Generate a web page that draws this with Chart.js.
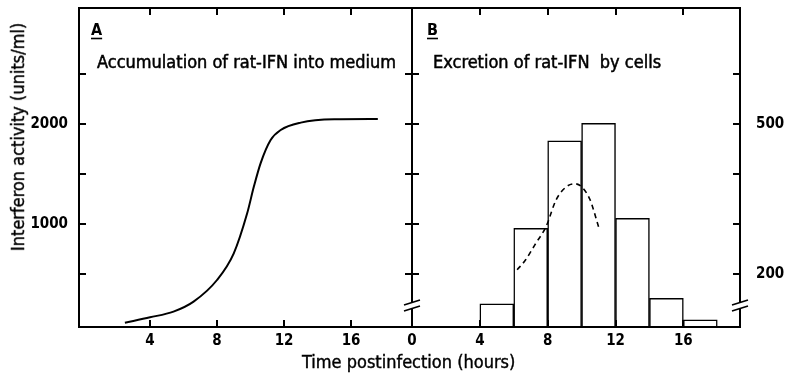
<!DOCTYPE html>
<html>
<head>
  <title>Rat-IFN accumulation and excretion</title>
  <script src="https://cdn.jsdelivr.net/npm/chart.js"></script>
  <style>
    body {
      margin: 0;
      background: #fff;
      width: 786px;
      height: 373px;
      position: relative;
      overflow: hidden;
      font-family: 'DejaVu Sans Condensed', 'DejaVu Sans', sans-serif;
    }
    .panel { position: absolute; top: 0; height: 373px; }
    #boxA { left: 0; width: 420px; }
    #boxB { left: 400px; width: 386px; }
    #xTitle, #yTitle {
      position: absolute;
      white-space: nowrap;
      font-size: 18px;
      line-height: 22px;
      -webkit-text-stroke: 0.4px #000;
    }
    #xTitle { left: 302px; top: 351px; width: 200px; text-align: center; }
    #yTitle { left: 18px; top: 137px; transform: translate(-50%, -50%) rotate(-90deg); }
  </style>
</head>
<body>
  <div class="panel" id="boxA"><canvas id="chartA"></canvas></div>
  <div class="panel" id="boxB"><canvas id="chartB"></canvas></div>
  <div id="yTitle">Interferon activity (units/ml)</div>
  <div id="xTitle">Time postinfection (hours)</div>

  <script>
    // panel A: cumulative rat-IFN in medium (units/ml)
    const accHours = [2.5, 4, 5.4, 6.6, 8, 9, 9.8, 10.2, 10.6, 11.2, 11.8, 13, 15, 17.6];
    const accUnits = [16, 70, 127, 227, 443, 710, 1110, 1377, 1610, 1843, 1943, 2017, 2050, 2053];

    // panel B: excretion per 2 h interval (bar centres) and dashed curve
    const binHours = [5, 7, 9, 11, 13, 15, 17];
    const binUnits = [141, 292, 467, 502, 312, 152, 109];
    const dashHours = [6.2, 6.7, 7.3, 7.9, 8.5, 9.1, 9.6, 10.0, 10.5, 11.0];
    const dashUnits = [209, 229, 262, 295, 349, 375, 381, 375, 349, 295];

    // ticks and labels
    const timeTicks = [4, 8, 12, 16];
    const timeLabelsA = [4, 8, 12, 16];
    const timeLabelsB = [0, 4, 8, 12, 16];
    const unitTicksA = [500, 1000, 1500, 2000, 2500];
    const unitLabelsA = [1000, 2000];
    const unitTicksB = [200, 300, 400, 500, 600];
    const unitLabelsB = [200, 500];

    const FAMILY = "'DejaVu Sans Condensed', 'DejaVu Sans', sans-serif";
    const tickFont = { family: FAMILY, size: 15, weight: 'bold' };

    // frame, inward tick marks, axis breaks and panel captions
    const framePlugin = {
      id: 'frame',
      afterDatasetsDraw(chart, args, opts) {
        const { ctx, chartArea: a } = chart;
        const xs = chart.scales.x, ys = chart.scales.y;
        ctx.save();
        ctx.strokeStyle = '#000';
        ctx.lineWidth = 2;
        ctx.strokeRect(a.left, a.top, a.width, a.height);

        ctx.beginPath();
        opts.xTicks.forEach(v => {
          const px = Math.round(xs.getPixelForValue(v));
          ctx.moveTo(px, a.bottom); ctx.lineTo(px, a.bottom - 7);
          ctx.moveTo(px, a.top); ctx.lineTo(px, a.top + 7);
        });
        opts.yTicks.forEach(v => {
          const py = Math.round(ys.getPixelForValue(v));
          ctx.moveTo(a.left, py); ctx.lineTo(a.left + 7, py);
          ctx.moveTo(a.right, py); ctx.lineTo(a.right - 7, py);
        });
        ctx.stroke();

        // "//" breaks on the vertical axes
        opts.breaks.forEach(side => {
          const bx = side === 'left' ? a.left : a.right;
          const by = a.bottom - 21;
          ctx.fillStyle = '#fff';
          ctx.fillRect(bx - 2, by - 3, 4, 6);
          ctx.lineWidth = 1.6;
          ctx.beginPath();
          ctx.moveTo(bx - 8, by - 1); ctx.lineTo(bx + 8, by - 6);
          ctx.moveTo(bx - 8, by + 5); ctx.lineTo(bx + 8, by);
          ctx.stroke();
        });

        // panel letter (underlined) and caption
        ctx.fillStyle = '#000';
        ctx.font = "bold 16px " + FAMILY;
        ctx.textBaseline = 'alphabetic';
        ctx.fillText(opts.letter, a.left + opts.letterX, a.top + 27);
        const lw = ctx.measureText(opts.letter).width;
        ctx.lineWidth = 1.6;
        ctx.beginPath();
        ctx.moveTo(a.left + opts.letterX, a.top + 30.5);
        ctx.lineTo(a.left + opts.letterX + lw, a.top + 30.5);
        ctx.stroke();
        ctx.font = "18px " + FAMILY;
        ctx.textBaseline = 'middle';
        ctx.lineWidth = 0.5;
        ctx.fillText(opts.caption, a.left + opts.captionX, a.top + 55);
        ctx.strokeText(opts.caption, a.left + opts.captionX, a.top + 55);
        ctx.restore();
      }
    };

    const setTicks = list => scale => { scale.ticks = list.map(v => ({ value: v })); };
    // keep the plot area where the layout padding puts it
    const fixSize = (w, h) => s => {
      if (w !== null) s.width = w;
      if (h !== null) s.height = h;
      s.paddingTop = 0; s.paddingBottom = 0; s.paddingLeft = 0; s.paddingRight = 0;
    };
    const plain = v => String(v);

    new Chart(document.getElementById('chartA'), {
      type: 'line',
      data: {
        datasets: [{
          data: accHours.map((h, i) => ({ x: h, y: accUnits[i] })),
          borderColor: '#000',
          borderWidth: 2,
          pointRadius: 0,
          cubicInterpolationMode: 'monotone',
          fill: false
        }]
      },
      options: {
        responsive: true,
        maintainAspectRatio: false,
        animation: false,
        layout: { padding: { top: 8, right: 8, left: 0, bottom: 0 } },
        plugins: {
          legend: { display: false },
          tooltip: { enabled: false },
          frame: {
            xTicks: timeTicks, yTicks: unitTicksA, breaks: [],
            letter: 'A', letterX: 12, caption: 'Accumulation of rat-IFN into medium', captionX: 18
          }
        },
        scales: {
          x: {
            type: 'linear', min: -0.24, max: 19.64,
            afterBuildTicks: setTicks(timeLabelsA),
            afterFit: fixSize(null, 46),
            grid: { display: false, drawTicks: false },
            border: { display: false },
            ticks: { color: '#000', font: tickFont, padding: 5, maxRotation: 0, autoSkip: false, callback: plain }
          },
          y: {
            type: 'linear', min: -27, max: 3163,
            afterBuildTicks: setTicks(unitLabelsA),
            afterFit: fixSize(79, null),
            grid: { display: false, drawTicks: false },
            border: { display: false },
            ticks: { color: '#000', font: tickFont, padding: 11, autoSkip: false, callback: plain }
          }
        }
      },
      plugins: [framePlugin]
    });

    new Chart(document.getElementById('chartB'), {
      type: 'bar',
      data: {
        datasets: [{
          type: 'bar',
          data: binHours.map((h, i) => ({ x: h, y: binUnits[i] })),
          backgroundColor: '#fff',
          borderColor: '#000',
          borderWidth: 1.5,
          borderSkipped: 'bottom',
          categoryPercentage: 1,
          barPercentage: 1,
          order: 2
        }, {
          type: 'line',
          data: dashHours.map((h, i) => ({ x: h, y: dashUnits[i] })),
          borderColor: '#000',
          borderWidth: 1.6,
          borderDash: [5, 4],
          pointRadius: 0,
          cubicInterpolationMode: 'monotone',
          fill: false,
          order: 1
        }]
      },
      options: {
        responsive: true,
        maintainAspectRatio: false,
        animation: false,
        layout: { padding: { top: 8, right: 0, left: 12, bottom: 0 } },
        plugins: {
          legend: { display: false },
          tooltip: { enabled: false },
          frame: {
            xTicks: timeTicks, yTicks: unitTicksB, breaks: ['left', 'right'],
            letter: 'B', letterX: 15, caption: 'Excretion of rat-IFN  by cells', captionX: 21
          }
        },
        scales: {
          x: {
            type: 'linear', min: 0, max: 19.34, offset: false,
            afterBuildTicks: setTicks(timeLabelsB),
            afterFit: fixSize(null, 46),
            grid: { display: false, drawTicks: false, offset: false },
            border: { display: false },
            ticks: { color: '#000', font: tickFont, padding: 5, maxRotation: 0, autoSkip: false, callback: plain }
          },
          y: {
            type: 'linear', position: 'right', min: 94.6, max: 732.6, beginAtZero: false,
            afterBuildTicks: setTicks(unitLabelsB),
            afterFit: fixSize(46, null),
            grid: { display: false, drawTicks: false },
            border: { display: false },
            ticks: { color: '#000', font: tickFont, padding: 16, autoSkip: false, callback: plain }
          }
        }
      },
      plugins: [framePlugin]
    });
  </script>
</body>
</html>
